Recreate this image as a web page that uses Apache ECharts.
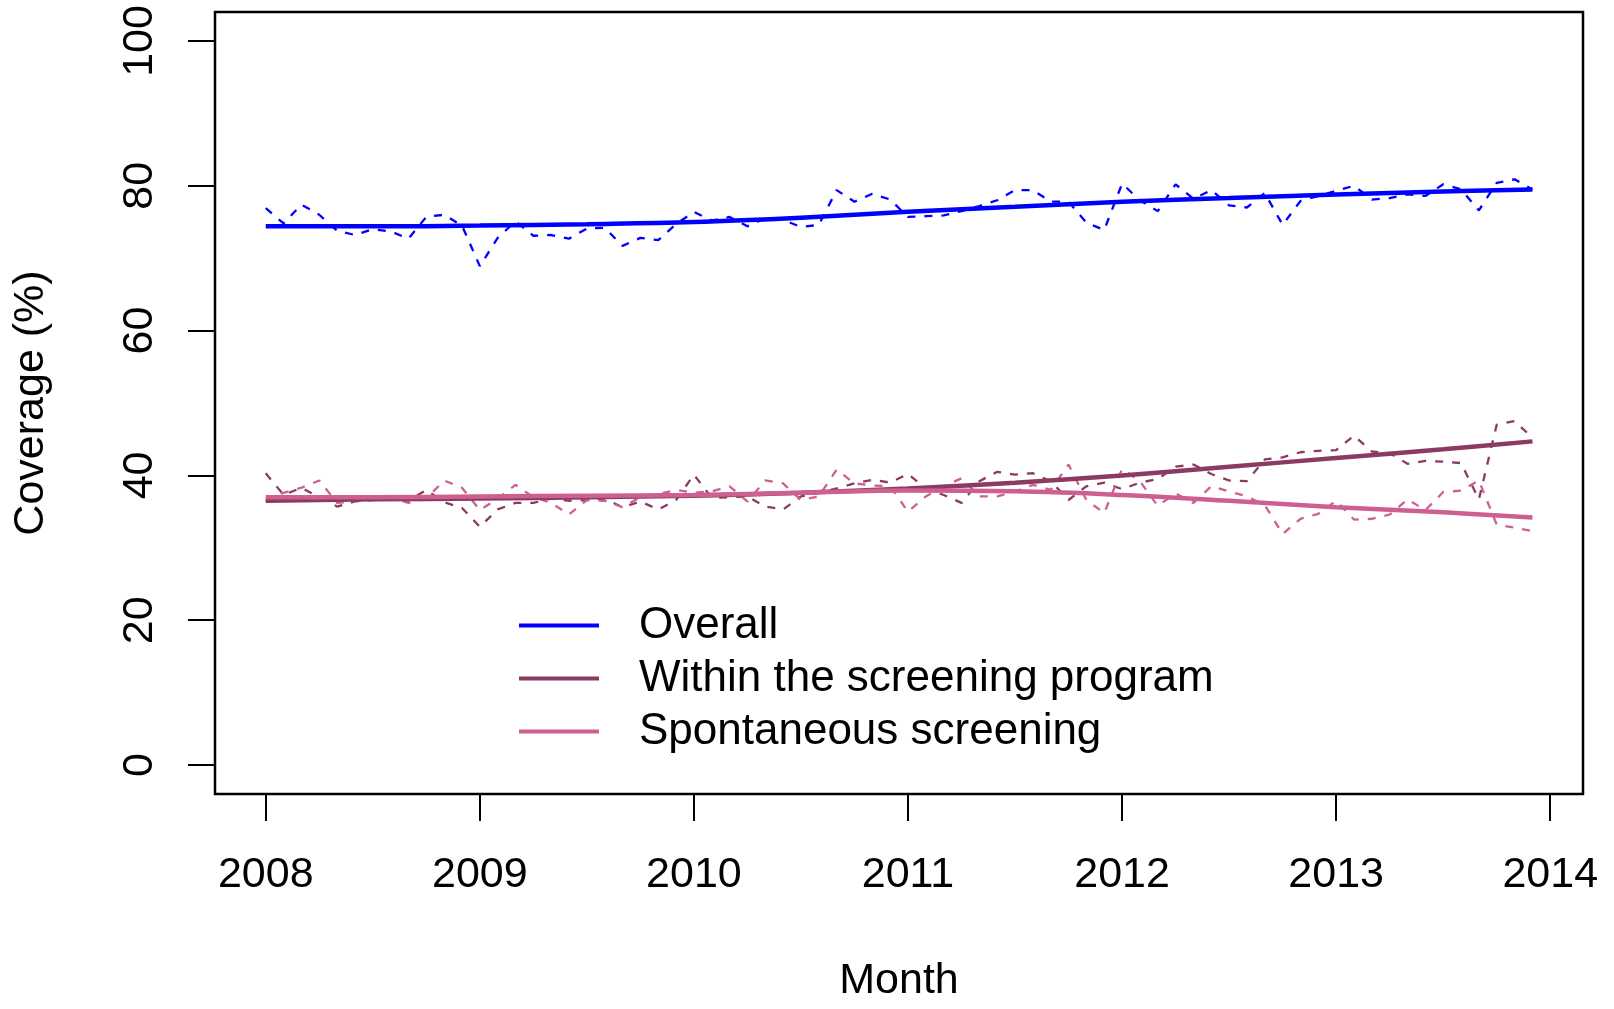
<!DOCTYPE html>
<html>
<head>
    <meta charset="utf-8">
    <script src="https://cdn.jsdelivr.net/npm/echarts@6/dist/echarts.min.js"></script>
    <style>
        body {
            margin: 0px;
            padding: 0px;
            background: #fff;
        }
    </style>
</head>
<body>
    <div id="chart" style="width: 1614px;height:1009px;"></div>
    <script>
        // monthly values, Jan 2008 .. Dec 2013
        var startYear = 2008;
        var months = [];
        for (var i = 0; i < 72; i++) {
            months.push(startYear + i / 12);
        }
        var overallMonthly = [
            76.9, 74.8, 77.4, 76.0, 73.8, 73.2, 74.0, 73.7, 72.7, 75.7, 76.0, 74.5,
            68.9, 72.8, 75.1, 73.1, 73.2, 72.7, 74.1, 74.2, 71.7, 72.8, 72.5, 74.7,
            76.4, 75.2, 75.7, 74.4, 75.5, 75.3, 74.3, 74.6, 79.4, 77.8, 78.9, 78.1,
            75.7, 75.8, 75.9, 76.5, 77.2, 78.0, 79.4, 79.4, 77.8, 77.8, 74.9, 73.9,
            80.3, 78.0, 76.5, 80.2, 78.2, 79.4, 77.3, 77.0, 79.0, 74.6, 77.9, 78.6,
            79.3, 80.0, 78.1, 78.3, 78.8, 78.6, 80.2, 79.5, 76.6, 80.4, 80.9, 79.5
        ];
        var withinMonthly = [
            40.3, 37.3, 38.3, 37.0, 35.7, 36.4, 36.6, 36.8, 36.5, 38.0, 36.3, 35.5,
            32.9, 35.3, 36.2, 36.2, 36.8, 36.5, 36.6, 36.8, 35.6, 36.4, 35.3, 36.6,
            40.1, 36.9, 37.0, 37.1, 35.7, 35.3, 37.1, 37.6, 38.2, 38.9, 39.4, 39.0,
            40.2, 38.2, 37.3, 36.2, 39.2, 40.5, 40.1, 40.3, 39.2, 36.6, 38.5, 39.0,
            38.1, 39.0, 39.5, 41.2, 41.5, 40.2, 39.3, 39.2, 42.2, 42.5, 43.2, 43.4,
            43.5, 45.5, 43.3, 43.1, 41.6, 42.0, 41.9, 41.7, 36.7, 47.0, 47.5, 45.2
        ];
        var spontMonthly = [
            36.4, 37.6, 38.3, 39.3, 36.2, 36.4, 36.8, 37.0, 36.2, 36.8, 39.3, 38.3,
            35.2, 36.8, 38.7, 37.0, 36.2, 34.6, 36.6, 36.5, 35.6, 37.0, 37.4, 38.0,
            37.6, 37.8, 38.5, 36.4, 39.3, 38.9, 36.6, 37.1, 40.8, 38.9, 38.6, 38.5,
            35.0, 37.1, 38.5, 39.6, 37.1, 37.1, 37.8, 38.7, 38.0, 41.5, 36.6, 34.8,
            40.9, 39.2, 35.8, 37.5, 36.2, 38.5, 37.8, 37.1, 35.9, 31.9, 34.0, 34.7,
            36.5, 33.9, 34.0, 34.6, 36.7, 35.2, 37.7, 37.9, 39.3, 33.2, 32.8, 32.3
        ];

        // smoothed trends read every half year
        var trendX = [2008, 2008.5, 2009, 2009.5, 2010, 2010.5, 2011, 2011.5, 2012, 2012.5, 2013, 2013.5, 2013.917];
        var overallTrend = [74.4, 74.4, 74.5, 74.7, 75.0, 75.6, 76.4, 77.1, 77.8, 78.3, 78.8, 79.2, 79.5];
        var withinTrend = [36.5, 36.7, 36.8, 37.0, 37.2, 37.6, 38.2, 39.0, 40.0, 41.2, 42.4, 43.6, 44.7];
        var spontTrend = [37.0, 37.0, 37.1, 37.2, 37.3, 37.6, 37.9, 37.8, 37.3, 36.5, 35.6, 34.9, 34.2];

        var seriesNames = ['Overall', 'Within the screening program', 'Spontaneous screening'];
        var colors = ['#0000FF', '#8B3A62', '#CD6090'];
        var yearTicks = [2008, 2009, 2010, 2011, 2012, 2013, 2014];
        var yTicks = [0, 20, 40, 60, 80, 100];

        function pairs(xs, ys) {
            return ys.map(function (v, i) { return [xs[i], v]; });
        }

        var font = "'Liberation Sans', Arial, Helvetica, sans-serif";

        function dashed(idx, values) {
            return {
                name: seriesNames[idx] + ' (monthly)',
                type: 'line',
                data: pairs(months, values),
                showSymbol: false,
                symbol: 'none',
                color: colors[idx],
                lineStyle: { width: 2.3, type: [8, 9], color: colors[idx] },
                z: 2
            };
        }

        function trend(idx, values, z) {
            return {
                name: seriesNames[idx],
                type: 'line',
                data: pairs(trendX, values),
                smooth: 0.4,
                showSymbol: false,
                symbol: 'none',
                color: colors[idx],
                lineStyle: { width: 4.5, color: colors[idx] },
                z: z
            };
        }

        var chart = echarts.init(document.getElementById('chart'));
        chart.setOption({
            animation: false,
            backgroundColor: '#fff',
            textStyle: { fontFamily: font },
            grid: {
                left: 215, top: 12, right: 31, bottom: 215,
                outerBoundsMode: 'none',
                containLabel: false,
                show: true, borderColor: '#000', borderWidth: 2.5,
                backgroundColor: 'transparent'
            },
            legend: {
                orient: 'vertical',
                left: 514,
                top: 594,
                icon: 'rect',
                itemWidth: 80,
                itemHeight: 4,
                itemGap: 0,
                data: seriesNames,
                textStyle: {
                    fontSize: 44, color: '#000', fontFamily: font,
                    lineHeight: 53, padding: [0, 0, 0, 35]
                }
            },
            xAxis: {
                type: 'value',
                min: 2007.763,
                max: 2014.153,
                splitLine: { show: false },
                axisLine: { show: false, onZero: false },
                axisTick: {
                    show: true, length: 27, customValues: yearTicks,
                    lineStyle: { color: '#000', width: 2 }
                },
                axisLabel: {
                    customValues: yearTicks, fontSize: 43, color: '#000',
                    margin: 60, fontFamily: font,
                    formatter: function (v) { return String(v); }
                },
                name: 'Month',
                nameLocation: 'middle',
                nameGap: 166,
                nameTextStyle: { fontSize: 43, color: '#000', fontFamily: font }
            },
            yAxis: {
                type: 'value',
                min: -4,
                max: 104,
                splitLine: { show: false },
                axisLine: { show: false, onZero: false },
                axisTick: {
                    show: true, length: 27, customValues: yTicks,
                    lineStyle: { color: '#000', width: 2 }
                },
                axisLabel: {
                    customValues: yTicks, fontSize: 43, color: '#000',
                    rotate: 90, margin: 53, fontFamily: font
                },
                name: 'Coverage (%)',
                nameLocation: 'middle',
                nameRotate: 90,
                nameGap: 162,
                nameTextStyle: { fontSize: 43, color: '#000', fontFamily: font }
            },
            series: [
                dashed(0, overallMonthly),
                dashed(1, withinMonthly),
                dashed(2, spontMonthly),
                trend(0, overallTrend, 3),
                trend(1, withinTrend, 3),
                trend(2, spontTrend, 4)
            ]
        });
    </script>
</body>
</html>
